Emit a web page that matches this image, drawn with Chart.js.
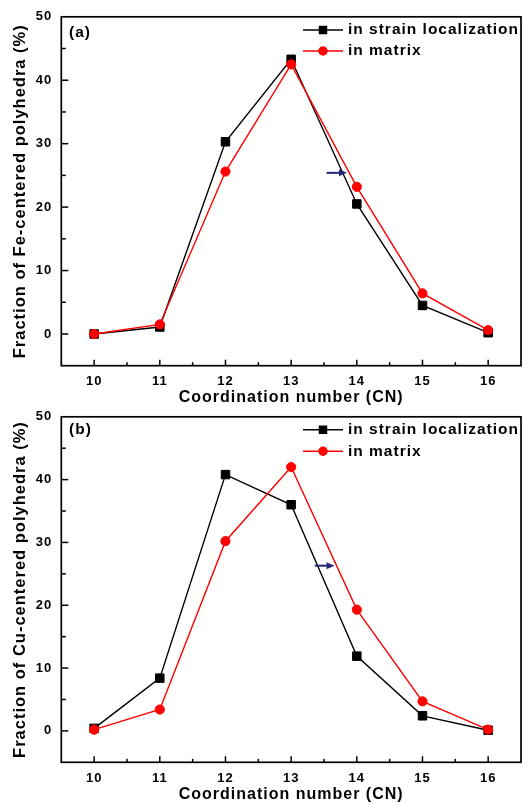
<!DOCTYPE html>
<html>
<head>
<meta charset="utf-8">
<script src="https://cdn.jsdelivr.net/npm/chart.js@4.4.1/dist/chart.umd.min.js"></script>
<style>
  html, body { margin: 0; padding: 0; background: #fff; }
  #wrap { position: relative; width: 529px; height: 803px; overflow: hidden; }
  canvas { position: absolute; left: 0; }
</style>
</head>
<body>
<div id="wrap">
  <canvas id="chartA" width="529" height="406" style="top:0"></canvas>
  <canvas id="chartB" width="529" height="403" style="top:400px"></canvas>
</div>
<script>
// values
const cn = [10, 11, 12, 13, 14, 15, 16];
const feStrain = [0, 1.1, 30.3, 43.3, 20.5, 4.5, 0.2];
const feMatrix = [0, 1.5, 25.6, 42.5, 23.2, 6.4, 0.6];
const cuStrain = [0.4, 8.4, 40.8, 36.0, 11.9, 2.4, 0.1];
const cuMatrix = [0.2, 3.4, 30.2, 42.0, 19.3, 4.7, 0.2];
// arrow annotation: x start, x end, y
const arrowFe = [13.54, 13.85, 25.4];
const arrowCu = [13.36, 13.66, 26.3];
const legendLabels = ['in strain localization', 'in matrix'];

const FONT = '"Liberation Sans", Arial, sans-serif';

function pts(ys) {
  return cn.map((c, i) => ({ x: c, y: ys[i] }));
}

function makeChart(id, tag, yTitle, strain, matrix, arrow, box) {
  const canvas = document.getElementById(id);
  const H = canvas.height;

  const decor = {
    id: 'decor',
    beforeDraw(chart) { chart.ctx.letterSpacing = '1px'; },
    afterDraw(chart) {
      const c = chart.ctx, a = chart.chartArea, x = chart.scales.x, y = chart.scales.y;
      c.save();
      c.strokeStyle = '#000';
      c.lineWidth = 1.5;
      // inward ticks
      x.ticks.forEach(t => {
        if (t.value <= x.min || t.value >= x.max) return;
        const px = x.getPixelForValue(t.value);
        const len = Number.isInteger(t.value) ? 6 : 3.5;
        c.beginPath(); c.moveTo(px, a.bottom); c.lineTo(px, a.bottom - len); c.stroke();
      });
      y.ticks.forEach(t => {
        if (t.value <= y.min || t.value >= y.max) return;
        const py = y.getPixelForValue(t.value);
        const len = t.value % 10 === 0 ? 7 : 4.5;
        c.beginPath(); c.moveTo(a.left, py); c.lineTo(a.left + len, py); c.stroke();
      });
      c.lineWidth = 1.7;
      c.strokeRect(a.left, a.top, a.right - a.left, a.bottom - a.top);

      // arrow
      const x0 = x.getPixelForValue(arrow[0]), x1 = x.getPixelForValue(arrow[1]);
      const ay = y.getPixelForValue(arrow[2]);
      c.strokeStyle = '#24247a';
      c.fillStyle = '#24247a';
      c.lineWidth = 2;
      c.beginPath(); c.moveTo(x0, ay); c.lineTo(x1 - 6, ay); c.stroke();
      c.beginPath(); c.moveTo(x1, ay); c.lineTo(x1 - 8, ay - 3.5); c.lineTo(x1 - 8, ay + 3.5); c.closePath(); c.fill();

      // legend
      c.font = 'bold 15.5px ' + FONT;
      c.textBaseline = 'middle';
      c.textAlign = 'left';
      chart.data.datasets.forEach((ds, i) => {
        const ly = box.legendY[i];
        c.strokeStyle = ds.borderColor;
        c.lineWidth = 1.4;
        c.beginPath(); c.moveTo(303, ly); c.lineTo(343, ly); c.stroke();
        c.fillStyle = ds.pointBackgroundColor;
        c.beginPath();
        Chart.helpers.drawPoint(c, { pointStyle: ds.pointStyle, radius: box.legendR[i], borderWidth: 1 }, 323, ly);
        c.fillStyle = '#000';
        c.fillText(legendLabels[i], 348, ly);
      });

      // panel tag
      c.fillStyle = '#000';
      c.fillText(tag, 69, box.tagY);
      c.restore();
      chart.ctx.letterSpacing = '0px';
    }
  };

  return new Chart(canvas.getContext('2d'), {
    type: 'line',
    data: {
      datasets: [
        { label: legendLabels[0], data: pts(strain), order: 1,
          borderColor: '#000', backgroundColor: '#000', pointBackgroundColor: '#000',
          borderWidth: 1.4, pointStyle: 'rect', pointRadius: 6, pointBorderWidth: 1 },
        { label: legendLabels[1], data: pts(matrix), order: 0,
          borderColor: '#ff0000', backgroundColor: '#ff0000', pointBackgroundColor: '#ff0000',
          borderWidth: 1.4, pointStyle: 'circle', pointRadius: 4.6, pointBorderWidth: 1 }
      ]
    },
    options: {
      responsive: false,
      animation: false,
      layout: { padding: { top: box.top, right: 1.5, left: 0, bottom: 0 } },
      plugins: { legend: { display: false }, tooltip: { enabled: false } },
      scales: {
        x: {
          type: 'linear', min: 9.5, max: 16.5,
          afterFit: s => { s.height = H - box.bottom; },
          grid: { display: false, drawTicks: false },
          border: { display: false },
          ticks: {
            stepSize: 0.5, autoSkip: false, padding: 8, color: '#000',
            font: { family: FONT, size: 13, weight: 'bold' },
            callback: v => (Number.isInteger(v) && v >= 10 && v <= 16) ? v : ''
          },
          title: {
            display: true, text: 'Coordination number (CN)', color: '#000',
            font: { family: FONT, size: 16, weight: 'bold', lineHeight: 1 },
            padding: { top: 0, bottom: box.xTitlePad }
          }
        },
        y: {
          type: 'linear', min: -5, max: 50,
          afterFit: s => { s.width = 61.3; },
          grid: { display: false, drawTicks: false },
          border: { display: false },
          ticks: {
            stepSize: 5, autoSkip: false, padding: 9, color: '#000',
            font: { family: FONT, size: 13, weight: 'bold' },
            callback: v => (v % 10 === 0 && v >= 0) ? v : ''
          },
          title: {
            display: true, text: yTitle, color: '#000',
            font: { family: FONT, size: 16.5, weight: 'bold', lineHeight: 1 },
            padding: { top: 12, bottom: 0 }
          }
        }
      }
    },
    plugins: [decor]
  });
}

makeChart('chartA', '(a)', 'Fraction of Fe-centered polyhedra (%)', feStrain, feMatrix, arrowFe,
  { top: 14.7, bottom: 365.7, legendY: [30, 51], legendR: [5, 4], tagY: 33, xTitlePad: 0 });
makeChart('chartB', '(b)', 'Fraction of Cu-centered polyhedra (%)', cuStrain, cuMatrix, arrowCu,
  { top: 14.7, bottom: 362.3, legendY: [29.7, 51.3], legendR: [5, 4], tagY: 30, xTitlePad: 0 });
</script>
</body>
</html>
